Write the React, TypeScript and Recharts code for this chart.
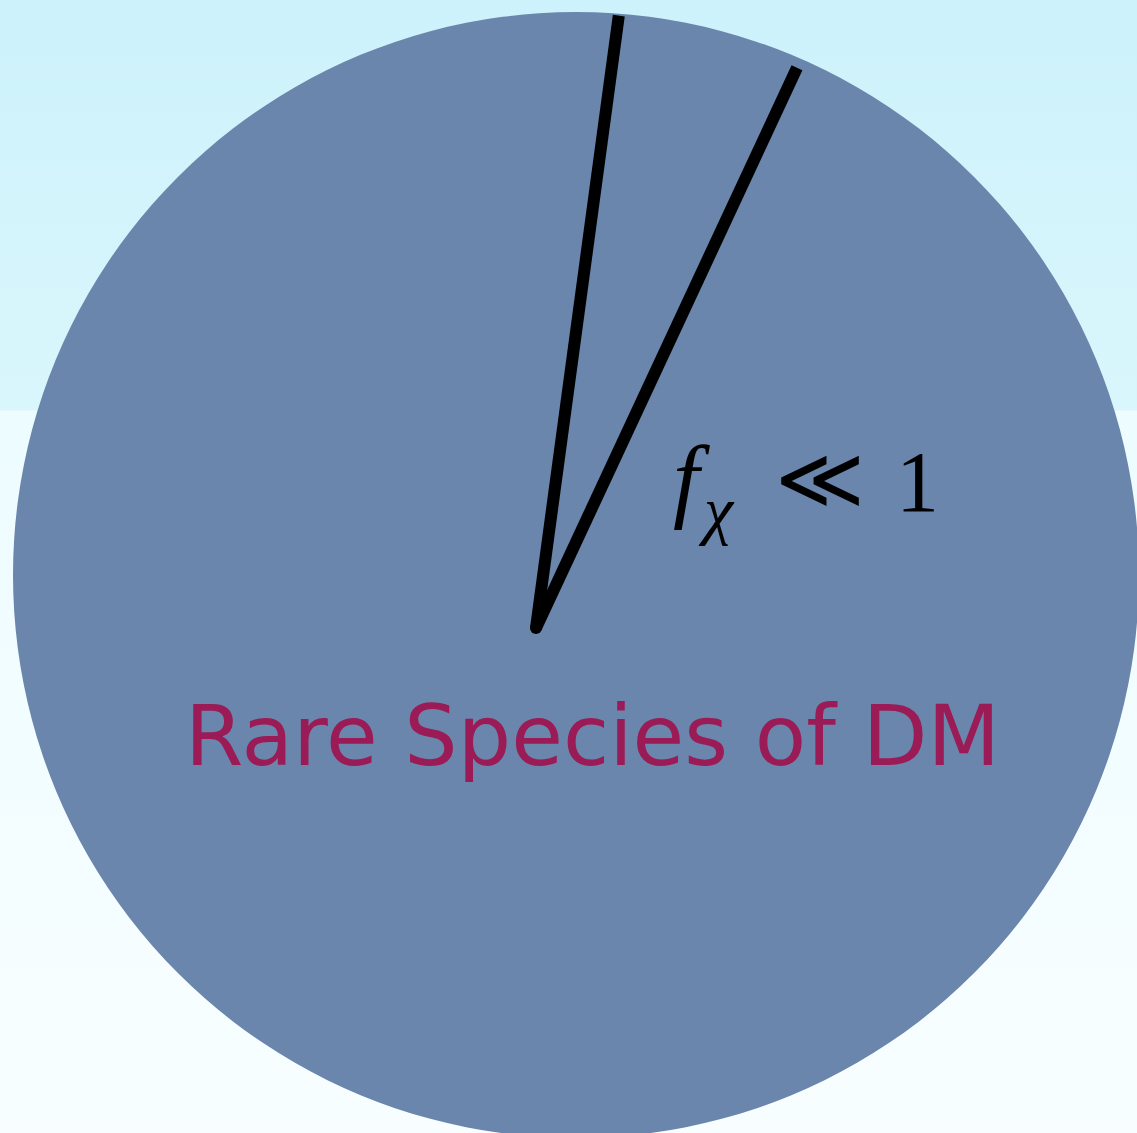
import React from "react";
import { PieChart, Pie } from "recharts";

// whole dark matter budget drawn as one disc
const discData = [{ name: "All DM", value: 100 }];

// share of the rare species vs the rest (wedge angle ~17 deg)
const fractionNames = ["fChi", "rest"];
const fractionValues = [4.8, 95.2];
const fractionData = fractionNames.map((name, i) => ({ name, value: fractionValues[i] }));

const mainLabel = "Rare Species of DM";
const wedgeStart = 82.3;

const RADIAN = Math.PI / 180;

function polar(cx: number, cy: number, r: number, angle: number) {
  return { x: cx + Math.cos(-RADIAN * angle) * r, y: cy + Math.sin(-RADIAN * angle) * r };
}

// only the two radial edges of the thin wedge are drawn
function WedgeEdges(props: any) {
  const { cx, cy, outerRadius, startAngle, endAngle, payload, name } = props;
  const key = (payload && payload.name) || name;
  if (key !== "fChi") return <g />;
  const a = polar(cx, cy, outerRadius, startAngle);
  const b = polar(cx, cy, outerRadius, endAngle);
  return (
    <g>
      <line x1={cx} y1={cy} x2={a.x} y2={a.y} stroke="#000" strokeWidth={12} />
      <line x1={cx} y1={cy} x2={b.x} y2={b.y} stroke="#000" strokeWidth={12} />
      <circle cx={cx} cy={cy} r={6} fill="#000" />
    </g>
  );
}

function renderLabel(props: any) {
  const { cx, cy, index } = props;
  if (index === 0) {
    return (
      <g>
        <text x={cx + 137} y={cy - 118} fontFamily="'Liberation Serif', serif" fontStyle="italic" fontSize={94} fill="#000">
          f
        </text>
        <text x={cx + 168} y={cy - 96} fontFamily="'Liberation Serif', serif" fontStyle="italic" fontSize={66} fill="#000">
          χ
        </text>
        <text x={cx + 239} y={cy - 120} fontFamily="'DejaVu Sans', sans-serif" fontWeight={200} fontSize={86} fill="#000">
          ≪
        </text>
        <text x={cx + 360} y={cy - 117} fontFamily="'Liberation Serif', serif" fontSize={86} fill="#000">
          1
        </text>
      </g>
    );
  }
  return (
    <text
      x={cx - 351}
      y={cy + 137}
      fontFamily="'Comic Sans MS', 'DejaVu Sans', sans-serif"
      fontSize={84}
      fill="#9a1b55"
      textLength={815}
      lengthAdjust="spacingAndGlyphs"
    >
      {mainLabel}
    </text>
  );
}

export default function App() {
  return (
    <div
      style={{
        position: "absolute",
        left: 0,
        top: 0,
        width: 1137,
        height: 1133,
        overflow: "hidden",
        background:
          "linear-gradient(to bottom, #cdf2fb 0px, #d9f6fc 410px, #edfcff 411px, #f8feff 1133px)",
      }}
    >
      <PieChart width={1137} height={1133} margin={{ top: 0, right: 0, bottom: 0, left: 0 }}>
        <Pie
          data={discData}
          dataKey="value"
          cx={576}
          cy={575}
          outerRadius={563}
          fill="#6a86ac"
          stroke="none"
          isAnimationActive={false}
        />
        <Pie
          data={fractionData}
          dataKey="value"
          cx={536}
          cy={628}
          outerRadius={618}
          startAngle={wedgeStart}
          endAngle={wedgeStart - 360}
          fill="none"
          stroke="none"
          shape={WedgeEdges}
          inactiveShape={WedgeEdges}
          activeShape={WedgeEdges}
          label={renderLabel}
          labelLine={false}
          isAnimationActive={false}
        />
      </PieChart>
    </div>
  );
}
